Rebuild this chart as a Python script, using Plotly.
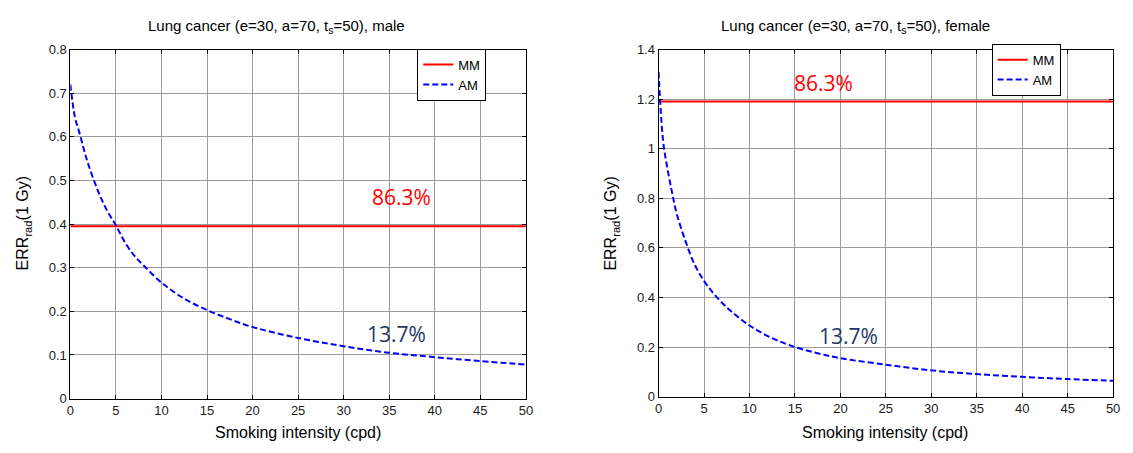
import plotly.graph_objects as go

# Smoking intensity (cigarettes per day) at which ERR was evaluated
cpd = [0, 0.5, 1, 1.5, 2, 3, 4, 5, 6, 7, 8, 10, 12.5, 15, 17.5, 20, 25, 30, 35, 40, 45, 50]

# Additive model (AM) ERR_rad(1 Gy)
am_male = [0.72, 0.645, 0.609, 0.57, 0.535, 0.478, 0.432, 0.397, 0.358, 0.328, 0.306,
           0.266, 0.229, 0.203, 0.182, 0.164, 0.139, 0.120, 0.105, 0.095, 0.086, 0.078]
am_female = [1.31, 1.03, 0.915, 0.82, 0.737, 0.623, 0.53, 0.467, 0.418, 0.378, 0.344,
             0.287, 0.236, 0.200, 0.175, 0.155, 0.129, 0.106, 0.091, 0.080, 0.071, 0.064]

# Multiplicative model (MM) ERR_rad(1 Gy) - constant in smoking intensity
mm_male = 0.395
mm_female = 1.19

panels = ["male", "female"]
pct_labels = ["86.3%", "13.7%"]
# label anchor points (cpd, ERR) for each panel: [MM label, AM label]
label_pos = {
    "male": [(36.3, 0.462), (35.8, 0.148)],
    "female": [(18.1, 1.267), (20.9, 0.245)],
}

RED = "#ff0000"
BLUE = "#0000ff"
NAVY = "#1f3864"
AXFONT = "Liberation Sans, Arial, sans-serif"

fig = go.Figure()

# MM curves (flat) and AM curves, left panel
fig.add_trace(go.Scatter(x=[cpd[0], cpd[-1]], y=[mm_male, mm_male], mode="lines", name="MM",
                         line=dict(color=RED, width=2), xaxis="x", yaxis="y", legend="legend"))
fig.add_trace(go.Scatter(x=cpd, y=am_male, mode="lines", name="AM",
                         line=dict(color=BLUE, width=2, dash="6px,3px", shape="spline"),
                         xaxis="x", yaxis="y", legend="legend"))
# right panel
fig.add_trace(go.Scatter(x=[cpd[0], cpd[-1]], y=[mm_female, mm_female], mode="lines", name="MM",
                         line=dict(color=RED, width=2), xaxis="x2", yaxis="y2", legend="legend2"))
fig.add_trace(go.Scatter(x=cpd, y=am_female, mode="lines", name="AM",
                         line=dict(color=BLUE, width=2, dash="6px,3px", shape="spline"),
                         xaxis="x2", yaxis="y2", legend="legend2"))

W, H = 1133, 453


def px_x(p):
    return p / W


def px_y(p):
    return 1 - p / H


common_axis = dict(
    showline=True, linecolor="black", linewidth=1, mirror="ticks",
    ticks="inside", ticklen=4, tickcolor="black",
    showgrid=True, gridcolor="#9c9c9c", gridwidth=1,
    zeroline=False,
    tickfont=dict(family=AXFONT, size=13, color="#1a1a1a"),
)

legend_style = dict(xanchor="right", yanchor="top", bgcolor="white",
                    bordercolor="black", borderwidth=1,
                    font=dict(family=AXFONT, size=13, color="black"), tracegroupgap=0)

fig.update_layout(
    width=W, height=H,
    margin=dict(l=0, r=0, t=0, b=0),
    paper_bgcolor="white", plot_bgcolor="white",
    xaxis=dict(domain=[px_x(67), px_x(527)], range=[0, 50], dtick=5, anchor="y", **common_axis),
    yaxis=dict(domain=[px_y(405), px_y(44)], range=[0, 0.8], dtick=0.1, anchor="x", **common_axis),
    xaxis2=dict(domain=[px_x(661), px_x(1120)], range=[0, 50], dtick=5, anchor="y2", **common_axis),
    yaxis2=dict(domain=[px_y(403), px_y(44)], range=[0, 1.4], dtick=0.2, anchor="x2", **common_axis),
    legend=dict(x=px_x(487), y=px_y(43), **legend_style),
    legend2=dict(x=px_x(1067), y=px_y(38), **legend_style),
    showlegend=True,
)

annotations = []
titles = [("Lung cancer (e=30, a=70, t<sub>s</sub>=50), male", 275),
          ("Lung cancer (e=30, a=70, t<sub>s</sub>=50), female", 860)]
for text, cx in titles:
    annotations.append(dict(text=text, x=px_x(cx), y=px_y(20), xref="paper", yref="paper",
                            xanchor="center", yanchor="middle", showarrow=False,
                            font=dict(family=AXFONT, size=15, color="black")))

for cx in (297, 890):
    annotations.append(dict(text="Smoking intensity (cpd)", x=px_x(cx), y=px_y(440),
                            xref="paper", yref="paper", xanchor="center", yanchor="middle",
                            showarrow=False, font=dict(family=AXFONT, size=16, color="black")))

for cx in (20, 614):
    annotations.append(dict(text="ERR<sub>rad</sub>(1 Gy)", x=px_x(cx), y=px_y(224),
                            xref="paper", yref="paper", xanchor="center", yanchor="middle",
                            textangle=-90, showarrow=False,
                            font=dict(family=AXFONT, size=16, color="black")))

for i, panel in enumerate(panels):
    xr, yr = ("x", "y") if i == 0 else ("x2", "y2")
    for (lx, ly), txt, col in zip(label_pos[panel], pct_labels, [RED, NAVY]):
        annotations.append(dict(text=txt, x=lx, y=ly, xref=xr, yref=yr,
                                xanchor="center", yanchor="middle", showarrow=False,
                                font=dict(family="Open Sans, sans-serif", size=21, color=col)))

fig.update_layout(annotations=annotations)

fig.write_html("out.html")
